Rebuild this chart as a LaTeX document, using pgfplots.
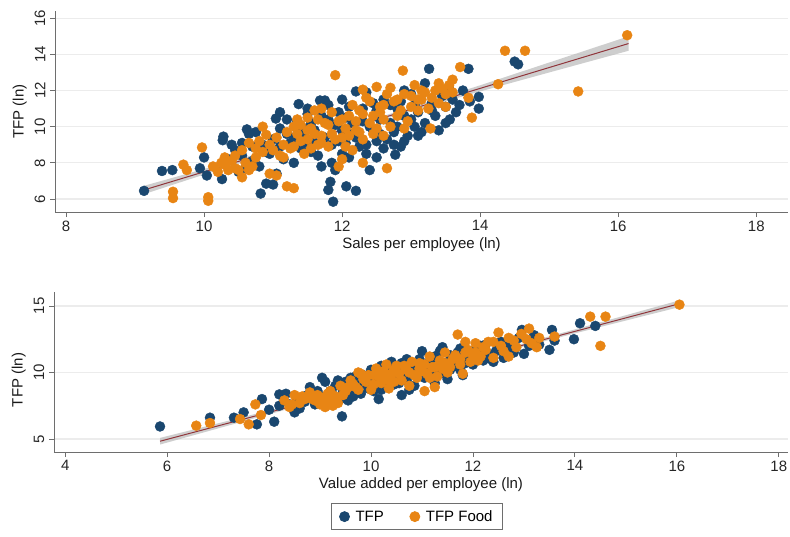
\documentclass[border=0pt]{standalone}
\usepackage{fontspec}
\setmainfont{Liberation Sans}
\usepackage{pgfplots}
\usepackage{pgfplotstable}
\pgfplotsset{compat=1.18}
\definecolor{navy}{RGB}{26,71,111}
\definecolor{sorange}{RGB}{232,133,20}
\definecolor{fitline}{RGB}{144,53,59}
\definecolor{gridc}{RGB}{236,236,236}
\definecolor{axc}{RGB}{110,110,110}
\definecolor{bandc}{RGB}{190,190,190}

% Top panel: sales per employee vs TFP
\pgfplotstableread{
x y
9.13 6.45
9.39 7.55
9.54 7.6
9.94 7.7
10.0 8.3
10.04 7.3
10.26 7.1
10.28 9.45
10.27 9.25
10.45 8.7
10.55 9.1
10.62 9.85
10.65 9.6
10.75 9.7
10.82 6.3
10.9 6.85
11.0 6.8
10.7 8.9
10.85 9.0
10.95 8.5
11.04 10.45
11.1 9.9
11.2 10.4
11.15 8.2
11.3 8.0
11.37 11.25
11.35 10.3
11.45 9.4
11.5 10.7
11.55 8.6
11.6 9.8
11.68 11.45
11.75 11.45
11.8 11.2
11.65 8.4
11.7 7.8
11.83 6.95
11.8 6.5
11.87 5.85
11.9 7.6
11.9 10.1
11.95 9.2
12.0 8.5
12.06 6.7
12.1 11.1
12.15 9.6
12.2 11.95
12.2 6.45
12.25 8.9
12.3 10.3
12.35 9.0
12.4 7.6
12.45 11.3
12.5 10.9
12.5 8.3
12.55 9.6
12.6 11.5
12.65 9.3
12.7 10.2
12.77 8.45
12.8 11.0
12.85 8.9
12.9 10.6
12.95 9.5
13.0 11.8
13.05 10.0
13.1 10.8
13.15 9.7
13.26 13.2
13.3 11.3
13.35 10.6
13.45 11.7
13.5 10.2
13.56 10.4
13.6 11.5
13.7 11.2
13.75 12.0
13.83 13.2
13.98 11.65
13.98 11.0
14.5 13.6
14.55 13.45
11.25 9.1
11.4 8.8
11.85 8.0
12.05 10.5
12.4 10.0
12.75 9.7
10.35 8.2
10.5 7.5
10.6 7.7
11.05 7.4
11.5 9.1
12.9 12.0
13.2 12.4
10.4 9.0
10.55 8.4
10.7 8.1
10.8 7.8
10.9 8.6
11.0 9.3
11.1 8.9
11.2 9.6
11.3 9.4
11.4 10.0
11.45 9.9
11.55 10.2
11.6 9.1
11.7 10.6
11.75 9.4
11.8 10.4
11.85 9.0
11.95 10.8
12.0 9.8
12.05 9.1
12.1 8.3
12.15 10.2
12.2 9.4
12.3 11.0
12.35 8.5
12.45 9.8
12.5 9.2
12.55 10.4
12.6 8.8
12.7 11.2
12.75 9.0
12.8 10.0
12.85 11.4
12.9 9.2
13.0 10.4
13.05 11.2
13.1 9.5
13.2 10.2
13.3 10.9
13.4 9.8
13.5 11.1
13.55 12.1
13.65 10.8
13.85 11.4
12.0 11.5
11.5 11.0
12.35 11.9
11.1 10.8
}\topblue

\pgfplotstableread{
x y
9.55 6.4
9.55 6.05
9.7 7.9
9.75 7.6
9.97 8.85
10.06 6.1
10.06 5.9
10.13 7.8
10.25 8.0
10.3 8.3
10.35 7.6
10.4 8.1
10.45 7.7
10.5 7.6
10.55 7.2
10.6 8.0
10.65 9.1
10.7 7.8
10.75 8.3
10.8 9.2
10.9 9.55
10.95 7.4
11.0 8.7
11.05 7.3
11.1 8.4
11.15 9.0
11.2 6.7
11.25 8.8
11.3 6.6
11.35 9.6
11.4 10.1
11.45 8.5
11.5 9.3
11.55 9.9
11.6 10.9
11.65 9.0
11.7 11.0
11.75 10.2
11.8 8.9
11.85 9.6
11.9 12.85
11.95 7.8
11.95 10.3
12.0 9.4
12.05 9.9
12.1 10.6
12.15 8.7
12.2 9.8
12.25 10.9
12.3 9.3
12.35 11.6
12.4 10.2
12.45 9.6
12.5 12.2
12.55 10.8
12.6 11.2
12.65 7.7
12.7 10.0
12.75 11.4
12.8 10.6
12.88 13.1
12.9 11.8
12.95 10.3
13.0 11.1
13.05 12.3
13.1 10.9
13.15 11.5
13.2 11.9
13.28 9.9
13.35 12.0
13.4 11.3
13.45 12.1
13.5 11.8
13.55 12.3
13.6 12.6
13.71 13.3
13.83 11.6
13.88 10.5
14.26 12.35
14.36 14.2
14.65 14.2
15.42 11.95
16.13 15.06
11.3 10.0
11.7 9.5
12.0 8.2
12.3 12.05
12.6 9.5
13.25 11.0
10.85 10.0
10.2 7.5
10.3 7.9
10.45 8.4
10.55 8.7
10.65 7.6
10.75 8.8
10.85 8.6
10.95 9.0
11.05 9.4
11.15 8.3
11.2 9.7
11.3 8.9
11.35 10.4
11.4 9.2
11.5 9.8
11.55 8.8
11.6 9.6
11.65 10.4
11.7 9.1
11.8 10.1
11.85 10.8
11.9 9.3
12.0 10.4
12.05 8.9
12.1 9.5
12.15 11.2
12.2 10.3
12.25 9.7
12.3 10.7
12.4 11.4
12.45 10.6
12.5 9.9
12.55 11.1
12.6 10.4
12.65 11.8
12.7 12.15
12.8 11.5
12.85 10.9
12.9 9.9
13.0 11.7
13.1 11.5
13.15 12.0
13.3 11.6
13.4 12.4
13.5 11.1
13.6 11.9
12.3 8.0
11.5 10.5
}\toporange

% Bottom panel: value added per employee vs TFP
\pgfplotstableread{
x y
5.86 5.94
6.84 6.6
7.31 6.6
7.76 6.1
7.86 8.0
8.1 6.3
8.2 7.5
8.2 8.35
8.33 8.4
8.6 7.3
8.8 8.9
9.04 9.6
9.43 6.7
8.5 7.0
8.7 7.8
8.9 7.6
9.0 8.2
9.2 8.6
9.3 9.0
9.4 8.0
9.5 9.3
9.6 8.8
9.7 9.7
9.8 8.4
9.9 9.2
10.0 10.2
10.05 8.6
10.1 9.5
10.2 10.5
10.25 8.9
10.3 9.8
10.4 10.8
10.45 9.1
10.5 10.3
10.6 8.3
10.65 9.7
10.7 11.0
10.8 10.1
10.85 9.0
10.9 10.6
11.0 11.6
11.05 9.6
11.1 10.4
11.2 11.1
11.25 9.2
11.3 10.0
11.4 11.9
11.45 10.7
11.5 9.5
11.6 10.9
11.7 11.5
11.75 10.2
11.8 9.8
11.9 11.2
12.0 10.6
12.1 11.8
12.2 10.9
12.3 11.4
12.4 10.8
12.5 11.9
12.6 11.1
12.7 12.2
12.8 11.5
12.96 13.2
13.0 11.4
13.3 12.1
13.5 11.7
13.55 13.2
13.6 12.4
13.98 12.5
14.1 13.7
14.4 13.5
9.1 9.3
9.55 7.9
10.15 8.0
10.35 10.0
10.75 8.7
11.15 10.8
11.35 11.6
11.55 10.2
12.25 12.1
7.5 7.0
8.0 7.2
8.4 7.6
8.55 8.0
8.75 8.3
8.95 8.6
9.1 8.0
9.25 8.3
9.35 9.4
9.45 8.6
9.6 9.6
9.65 8.2
9.75 9.0
9.85 9.8
9.95 8.8
10.05 9.4
10.1 10.0
10.2 8.7
10.3 9.3
10.35 10.4
10.45 9.8
10.55 9.2
10.6 10.7
10.7 9.4
10.8 10.5
10.9 9.7
10.95 11.0
11.05 10.3
11.15 9.8
11.25 11.2
11.35 10.4
11.45 9.9
11.55 11.3
11.65 10.5
11.75 11.8
11.85 10.7
11.95 11.6
12.05 10.9
12.15 12.0
12.35 11.0
12.45 11.6
12.55 12.3
12.75 11.8
12.9 12.6
13.1 12.0
13.2 12.8
}\botblue

\pgfplotstableread{
x y
6.57 6.0
6.84 6.2
7.43 6.5
7.6 6.1
7.73 7.6
7.84 6.8
8.4 7.4
8.5 8.3
8.7 8.0
8.9 7.9
9.0 7.6
9.05 8.1
9.1 7.4
9.15 8.4
9.2 7.8
9.25 7.5
9.3 8.2
9.4 9.0
9.5 8.6
9.6 9.4
9.7 8.9
9.8 9.9
9.9 9.3
10.0 8.7
10.05 9.8
10.1 10.3
10.2 9.2
10.25 9.6
10.3 10.6
10.35 8.8
10.4 9.9
10.5 10.5
10.6 9.4
10.7 10.2
10.75 9.0
10.8 10.8
10.9 9.6
11.0 10.1
11.05 8.6
11.1 9.9
11.15 11.2
11.2 10.4
11.3 9.7
11.4 10.3
11.45 11.5
11.5 10.0
11.6 11.0
11.7 12.85
11.75 10.6
11.8 9.9
11.9 11.7
12.0 11.3
12.05 12.2
12.1 10.9
12.2 11.9
12.3 12.3
12.4 11.1
12.5 13.0
12.6 11.6
12.7 11.2
12.8 12.4
13.05 12.5
13.1 13.3
13.25 11.9
13.3 12.6
13.6 12.7
14.3 14.2
14.6 14.2
14.5 12.0
16.05 15.1
8.6 7.7
8.8 8.5
9.35 7.7
9.75 10.0
10.45 9.3
10.95 10.7
11.25 8.9
11.85 12.3
8.3 7.9
8.45 7.6
8.65 8.2
8.85 8.0
8.95 8.3
9.05 7.8
9.15 7.7
9.2 8.6
9.3 8.0
9.45 8.3
9.55 8.9
9.65 9.1
9.75 8.7
9.85 9.5
9.95 9.8
10.05 9.1
10.15 9.7
10.25 10.1
10.35 9.4
10.45 10.2
10.55 9.9
10.65 10.5
10.75 10.0
10.85 9.8
10.95 10.3
11.05 10.6
11.15 9.6
11.25 10.4
11.35 10.9
11.45 10.7
11.55 10.4
11.65 11.3
11.75 11.0
11.85 11.5
11.95 10.8
12.05 11.5
12.15 11.2
12.25 11.7
12.4 12.3
12.55 12.0
12.7 12.6
12.85 11.9
12.95 12.9
13.15 12.2
}\botorange

\pgfplotsset{
  statastyle/.style={
    scale only axis,
    axis lines*=left,
    axis line style={axc, line width=0.9pt},
    tick style={axc, line width=0.9pt},
    tick align=outside,
    major tick length=5pt,
    ymajorgrids,
    grid style={gridc, line width=1.2pt},
    tick label style={font=\fontsize{15}{18}\selectfont, text=black!85},
    /pgf/number format/assume math mode=true,
    yticklabel style={rotate=90, anchor=south, inner sep=4.5pt},
    label style={font=\fontsize{15}{18}\selectfont, text=black!90},
    clip=false,
  },
  bluepts/.style={only marks, mark=*, mark size=5pt, mark options={draw=navy, fill=navy}},
  orgpts/.style={only marks, mark=*, mark size=5pt, mark options={draw=sorange, fill=sorange}},
}

\begin{document}
\begin{tikzpicture}
\useasboundingbox (0,0) rectangle (790pt,-536pt);

\begin{axis}[statastyle,
  at={(55pt,-212pt)}, anchor=south west,
  width=733pt, height=201pt,
  xmin=7.84, xmax=18.46, ymin=5.28, ymax=16.4,
  xtick={8,10,12,14,16,18}, ytick={6,8,10,12,14,16},
  xlabel={Sales per employee (ln)},
  ylabel={TFP (ln)},
]
\addplot[bluepts] table {\topblue};
\addplot[orgpts] table {\toporange};
\addplot[fill=bandc, draw=none, opacity=0.75] coordinates {
(9.13,6.73) (10,7.66) (11,8.75) (12,9.89) (13,11.07) (14,12.29) (15,13.55) (16.15,15.0)
(16.15,14.2) (15,13.0) (14,11.95) (13,10.86) (12,9.73) (11,8.56) (10,7.35) (9.13,6.27)} -- cycle;
\addplot[fitline, line width=1pt] coordinates {(9.13,6.5) (16.15,14.6)};
\end{axis}

\begin{axis}[statastyle,
  at={(54pt,-452pt)}, anchor=south west,
  width=734pt, height=160pt,
  xmin=3.78, xmax=18.18, ymin=4.02, ymax=16.05,
  xtick={4,6,8,10,12,14,16,18}, ytick={5,10,15},
  xlabel={Value added per employee (ln)},
  ylabel={TFP (ln)},
  ylabel style={yshift=0pt, xshift=-8pt},
  legend style={at={(axis description cs:0.4946,-0.319)}, anchor=north,
    legend columns=2, draw=axc, line width=0.8pt,
    font=\fontsize{15}{18}\selectfont,
    /tikz/every even column/.append style={column sep=24pt},
    /tikz/every odd column/.append style={column sep=4pt},
    inner xsep=8pt, inner ysep=5pt},
]
\addplot[bluepts] table {\botblue};
\addlegendentry{TFP}
\addplot[orgpts] table {\botorange};
\addlegendentry{TFP Food}
\addplot[fill=bandc, draw=none, opacity=0.75, forget plot] coordinates {
(5.86,5.08) (8,7.14) (10,9.11) (12,11.15) (14,13.24) (16.0,15.37)
(16.0,14.87) (14,12.94) (12,10.97) (10,8.95) (8,6.86) (5.86,4.58)} -- cycle;
\addplot[fitline, line width=1pt, forget plot] coordinates {(5.86,4.83) (16.0,15.12)};
\end{axis}
\end{tikzpicture}
\end{document}
